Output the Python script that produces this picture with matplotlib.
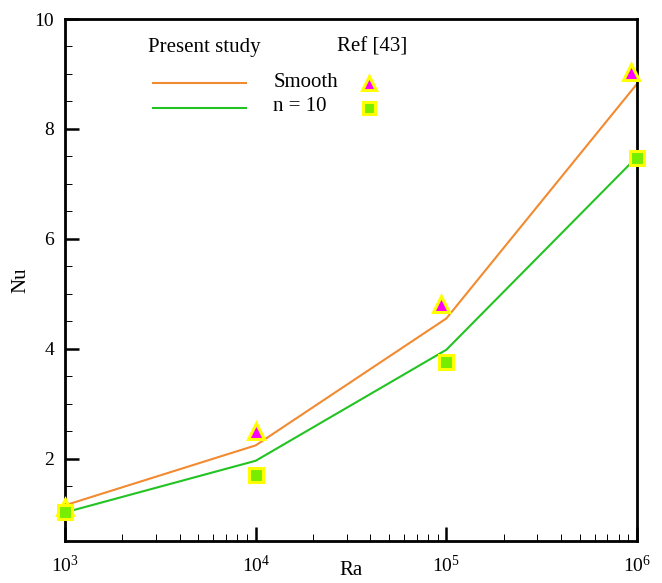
import numpy as np
import matplotlib
matplotlib.use("Agg")
import matplotlib.pyplot as plt
import matplotlib.ticker as mticker
from matplotlib.lines import Line2D

# ── Style ─────────────────────────────────────────────────────────────────────
plt.rcParams.update({
    "font.family": "Liberation Serif", "font.size": 14,
    "mathtext.fontset": "custom", "mathtext.rm": "Liberation Serif",
    "mathtext.it": "Liberation Serif:italic", "mathtext.bf": "Liberation Serif:bold",
})

ORANGE = "#f28a30"
GREEN = "#22c322"

# ── Data ──────────────────────────────────────────────────────────────────────
ra = [1e3, 1e4, 1e5, 1e6]
nu_smooth = [1.15, 2.24, 4.55, 8.82]
nu_n10 = [1.02, 1.96, 3.98, 7.49]

ref_ra_smooth = [1e3, 1e4, 9.4e4, 9.3e5]
ref_smooth = [1.12, 2.51, 4.82, 9.04]
ref_ra_n10 = [1e3, 1e4, 1e5, 1e6]
ref_n10 = [1.02, 1.71, 3.75, 7.47]

# ── Plot ──────────────────────────────────────────────────────────────────────
fig = plt.figure(figsize=(6.62, 5.83), dpi=100)
ax = fig.add_axes([65/662, 42/583, 572/662, 522/583])

ax.plot(ra, nu_smooth, color=ORANGE, lw=1.5)
ax.plot(ra, nu_n10, color=GREEN, lw=1.5)
tri = dict(marker="^", ls="none", ms=11, mfc="#ff00ff", mec="#ffff00", mew=2.2, clip_on=False)
sq = dict(marker="s", ls="none", ms=10, mfc="#77ee00", mec="#ffff00", mew=2.2, clip_on=False)
ax.plot(ref_ra_smooth, ref_smooth, zorder=5, **tri)
ax.plot(ref_ra_n10, ref_n10, zorder=5, **sq)

ax.set_xscale("log")
ax.set_xlim(1e3, 1e6)
ax.set_ylim(0.5, 10)
ax.yaxis.set_major_locator(mticker.MultipleLocator(2))
ax.yaxis.set_minor_locator(mticker.MultipleLocator(0.5))
ax.xaxis.set_major_locator(mticker.LogLocator(base=10))
ax.xaxis.set_minor_locator(mticker.LogLocator(base=10, subs=np.arange(2, 10)))
ax.xaxis.set_minor_formatter(mticker.NullFormatter())

for s in ax.spines.values():
    s.set_linewidth(2)
ax.tick_params(which="major", direction="in", length=10, width=1.8, pad=8,
               top=False, right=False, labelsize=14)
ax.tick_params(which="minor", direction="in", length=5, width=0.7,
               top=False, right=False)
ax.tick_params(axis="x", which="major", pad=10)

ax.set_xlabel("Ra", fontsize=15, labelpad=-11)
ax.set_ylabel("Nu", fontsize=15, labelpad=3)

# ── Legend (drawn manually) ──────────────────────────────────────────────────
tr = ax.transAxes
ax.text(0.145, 0.946, "Present study", transform=tr, va="center", ha="left", fontsize=15)
ax.text(0.476, 0.946, "Ref [43]", transform=tr, va="center", ha="left", fontsize=15)
ax.add_line(Line2D([0.154, 0.316], [0.877, 0.877], transform=tr, color=ORANGE, lw=1.5))
ax.add_line(Line2D([0.154, 0.316], [0.830, 0.830], transform=tr, color=GREEN, lw=1.5))
ax.text(0.364, 0.879, "Smooth", transform=tr, va="center", ha="left", fontsize=15)
ax.text(0.364, 0.832, "n = 10", transform=tr, va="center", ha="left", fontsize=15)
ax.add_line(Line2D([0.531], [0.877], transform=tr, **{**tri, "ms": 10}))
ax.add_line(Line2D([0.531], [0.830], transform=tr, **{**sq, "ms": 9}))

fig.savefig("out.png", dpi=100, facecolor="white")
